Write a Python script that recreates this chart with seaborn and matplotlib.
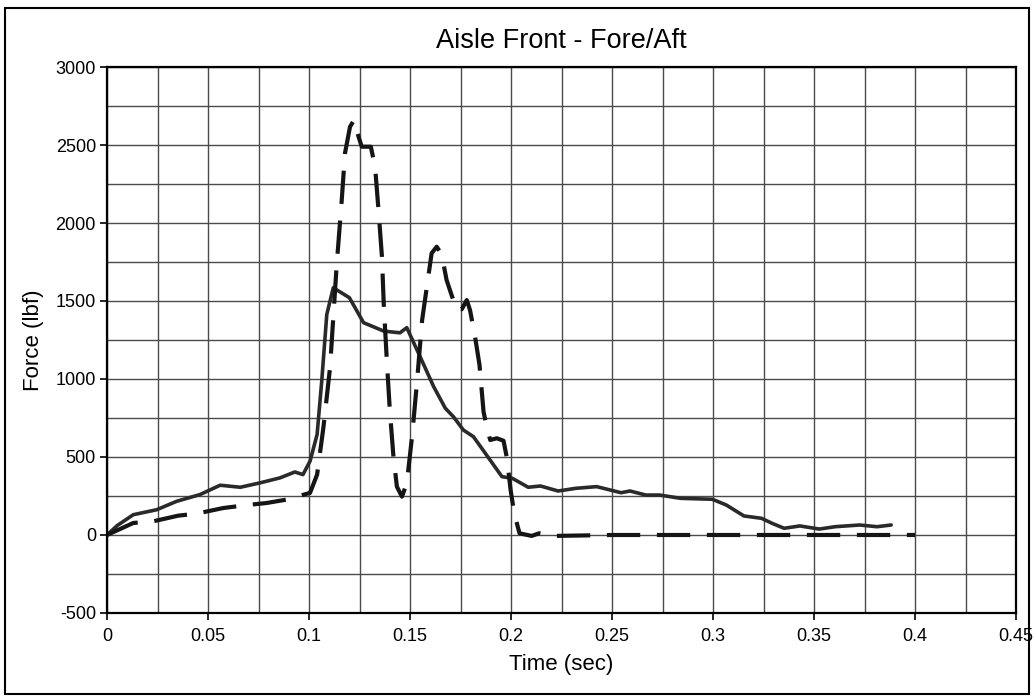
import matplotlib
matplotlib.use("Agg")
import matplotlib.pyplot as plt
import seaborn as sns
import numpy as np
import pandas as pd
from matplotlib.ticker import MultipleLocator

# Solid trace (time in sec, force in lbf)
solid_t = [0.0, 0.005, 0.013, 0.0246, 0.0345, 0.046, 0.056, 0.066, 0.0757, 0.0856,
           0.093, 0.097, 0.1005, 0.104, 0.1063, 0.1088, 0.112, 0.120, 0.127, 0.137,
           0.145, 0.1484, 0.155, 0.1617, 0.1675, 0.1715, 0.1764, 0.1814, 0.1855,
           0.1955, 0.2007, 0.2085, 0.2146, 0.2233, 0.232, 0.2424, 0.2545, 0.2589,
           0.2667, 0.2736, 0.284, 0.2997, 0.3066, 0.3153, 0.324, 0.3292, 0.3352,
           0.343, 0.3526, 0.3604, 0.3726, 0.3812, 0.3882]
solid_f = [0, 60, 130, 162, 216, 259, 319, 306, 334, 366,
           404, 387, 473, 644, 987, 1414, 1585, 1521, 1361, 1307,
           1296, 1329, 1143, 951, 812, 758, 673, 630, 556,
           374, 363, 306, 314, 282, 299, 310, 271, 282,
           256, 256, 235, 229, 192, 122, 107, 75, 43,
           58, 38, 53, 64, 53, 64]

# Dashed trace
dash_t = [0.0, 0.013, 0.023, 0.0353, 0.0444, 0.0576, 0.0708, 0.079, 0.089, 0.1005,
          0.104, 0.1071, 0.1104, 0.1137, 0.1162, 0.1178, 0.1203, 0.1223, 0.1240,
          0.1261, 0.1306, 0.1327, 0.1344, 0.1361, 0.1370, 0.1385, 0.140, 0.1418,
          0.1435, 0.146, 0.1484, 0.151, 0.1534, 0.156, 0.1607, 0.1632, 0.1648,
          0.1665, 0.1681, 0.1714, 0.1723, 0.1756, 0.1781, 0.1797, 0.1822, 0.1844,
          0.1864, 0.1881, 0.1897, 0.193, 0.1963, 0.198, 0.1998, 0.2016, 0.2042,
          0.2102, 0.214, 0.2215, 0.25, 0.30, 0.35, 0.40]
dash_f = [0, 77, 88, 124, 137, 173, 194, 205, 227, 270,
          387, 687, 1072, 1731, 2147, 2447, 2617, 2660, 2575,
          2489, 2489, 2361, 2083, 1784, 1480, 1122, 801, 502,
          310, 246, 331, 630, 972, 1378, 1806, 1848, 1816,
          1742, 1635, 1506, 1447, 1447, 1506, 1442, 1271, 1090,
          790, 684, 609, 620, 604, 491, 288, 139, 11,
          -6, 11, -6, 0, 0, 0, 0]

TITLE = "Aisle Front - Fore/Aft"
XLABEL = "Time (sec)"
YLABEL = "Force (lbf)"


def main():
    sns.set_theme(style="white")
    plt.rcParams['font.family'] = ['Liberation Sans', 'DejaVu Sans']
    plt.rcParams['axes.unicode_minus'] = False
    for k in ['text.color', 'axes.labelcolor', 'xtick.color', 'ytick.color']:
        plt.rcParams[k] = 'black'

    fig = plt.figure(figsize=(10.34, 6.98), dpi=100)
    ax = fig.add_axes([0.1035, 0.1218, 0.8791, 0.7822])

    df_solid = pd.DataFrame({"t": solid_t, "f": solid_f})
    df_dash = pd.DataFrame({"t": dash_t, "f": dash_f})

    sns.lineplot(data=df_solid, x="t", y="f", ax=ax, sort=False, estimator=None,
                 color="#2a2a2a", lw=2.6)
    sns.lineplot(data=df_dash, x="t", y="f", ax=ax, sort=False, estimator=None,
                 color="#151515", lw=3.0, dashes=False)
    ax.lines[-1].set_dashes([8, 4])

    ax.set_xlim(0, 0.45)
    ax.set_ylim(-500, 3000)
    ax.xaxis.set_major_locator(MultipleLocator(0.05))
    ax.xaxis.set_minor_locator(MultipleLocator(0.025))
    ax.yaxis.set_major_locator(MultipleLocator(500))
    ax.yaxis.set_minor_locator(MultipleLocator(250))
    ax.set_xticklabels([f"{v:g}" for v in ax.get_xticks()])
    ax.grid(True, which="both", color="#4a4a4a", lw=1.0)
    ax.set_axisbelow(True)

    for s in ax.spines.values():
        s.set_color("black")
        s.set_linewidth(1.6)
    ax.tick_params(axis="both", which="major", direction="out", length=5, width=1.2,
                   color="black", labelsize=13, bottom=True, left=True)
    ax.tick_params(axis="x", which="major", pad=6)
    ax.tick_params(axis="y", which="major", pad=3)
    ax.tick_params(axis="both", which="minor", length=0)

    ax.set_title(TITLE, fontsize=19.5, pad=14)
    ax.set_xlabel(XLABEL, fontsize=16, labelpad=6)
    ax.set_ylabel(YLABEL, fontsize=16, labelpad=8)

    # frame round the whole figure
    fig.patches.append(plt.Rectangle((0.005, 0.006), 0.99, 0.982, transform=fig.transFigure,
                                     fill=False, edgecolor="black", lw=1.5))

    fig.savefig("out.png", dpi=100)


if __name__ == '__main__':
    main()
